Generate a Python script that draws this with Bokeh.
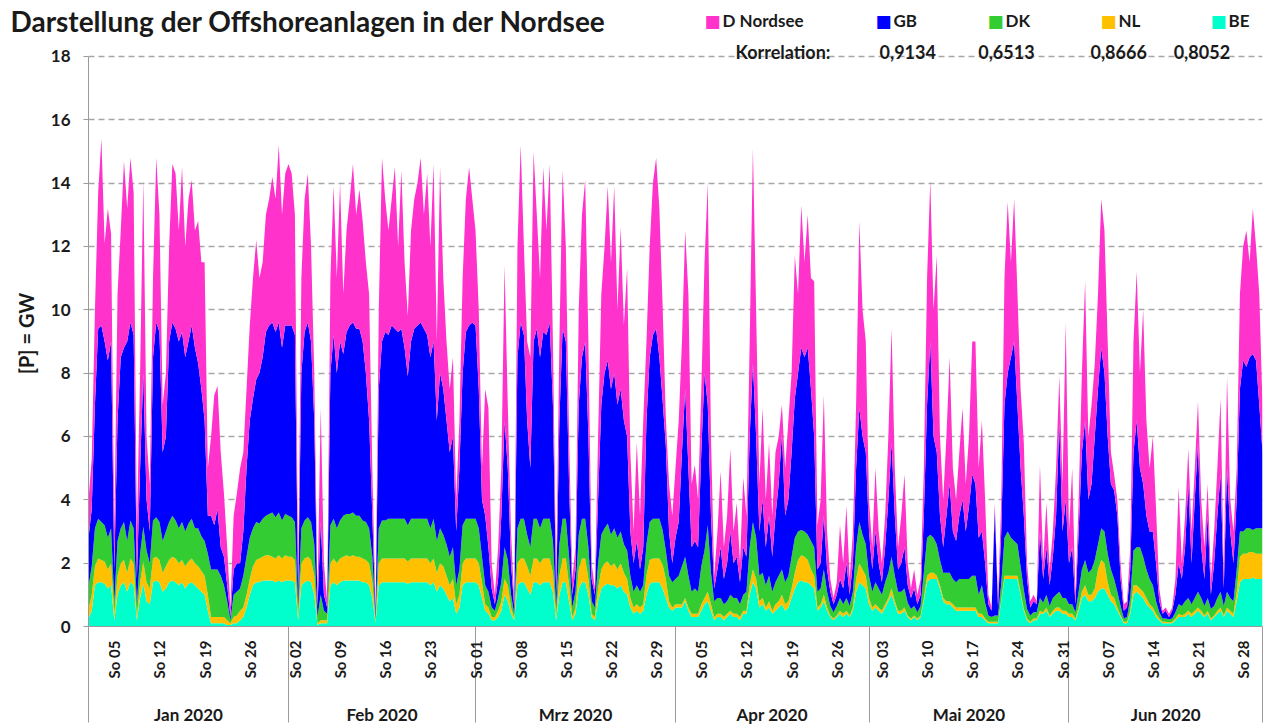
import math
from bokeh.plotting import figure
from bokeh.layouts import column
from bokeh.models import ColumnDataSource, Range1d, LinearAxis, FixedTicker, Label
from bokeh.embed import file_html
from bokeh.resources import INLINE

# ---------------- data (GW, 12-hour steps from 1 Jan 2020 00:00) ----------------
be = [
 .25,.5,1.3,1.4,1.4,1.35,1.2,1.3,.2,1.0,
 1.3,1.4,1.1,1.4,1.3,.2,.9,1.35,.8,.7,
 1.4,1.45,1.4,1.1,1.2,1.4,1.45,1.4,1.3,1.4,
 1.2,1.35,1.4,1.3,1.2,1.1,1.0,.5,.1,.1,
 .1,.1,.1,.05,.05,.1,.1,.2,.3,.6,
 1.0,1.3,1.4,1.4,1.45,1.45,1.45,1.45,1.4,1.45,
 1.4,1.45,1.45,1.45,1.4,.2,1.3,1.4,1.45,1.4,
 1.0,.05,.1,.1,.1,1.3,1.4,1.3,1.4,1.45,
 1.45,1.45,1.45,1.45,1.45,1.4,1.4,1.3,.9,.1,
 1.3,1.4,1.4,1.4,1.4,1.4,1.4,1.4,1.4,1.35,
 1.4,1.4,1.4,1.4,1.4,1.4,1.3,1.4,1.1,1.3,
 1.2,1.0,.8,.9,.4,.6,1.3,1.4,1.4,1.4,
 1.4,1.3,.9,.5,.4,.2,.2,.3,.5,1.0,
 .8,.4,.2,1.3,1.4,1.4,1.2,1.0,1.4,1.4,
 1.3,1.4,1.4,1.4,1.1,.2,1.0,1.4,1.4,.8,
 .2,.4,1.2,1.4,1.4,1.0,.3,.2,.8,1.2,
 1.3,1.35,1.3,1.3,1.2,1.3,1.1,1.0,.6,.4,
 .5,.4,.5,1.0,1.35,1.4,1.4,1.4,1.2,.9,
 .6,.5,.6,.6,.6,.8,.5,.3,.3,.3,
 .5,.7,.8,.5,.2,.3,.3,.2,.3,.4,
 .3,.3,.2,.4,.4,1.0,1.4,1.2,.6,.7,
 .5,.6,.4,.5,.6,.7,.5,.6,.9,1.2,
 1.4,1.45,1.4,1.4,1.3,1.2,.5,.6,.8,.5,
 .3,.2,.3,.4,.3,.4,.3,.5,1.1,1.4,
 1.3,1.2,.7,.5,.6,.5,.4,.6,.8,1.0,
 .7,.4,.4,.5,.3,.2,.3,.2,.3,.8,
 1.4,1.5,1.5,1.5,1.2,.8,.7,.7,.6,.5,
 .5,.5,.5,.5,.5,.5,.3,.3,.2,.1,
 .1,.1,.1,.8,1.5,1.5,1.5,1.5,1.5,1.0,
 .5,.2,.1,.2,.2,.4,.4,.5,.3,.4,
 .5,.5,.4,.4,.3,.3,.2,.5,.9,1.0,
 .8,.8,.9,1.1,1.2,1.2,1.0,.8,.7,.5,
 .3,.1,.1,.4,1.0,1.1,1.0,.9,.7,.6,
 .5,.3,.2,.1,.1,.1,.1,.2,.3,.3,
 .3,.4,.3,.4,.5,.4,.3,.4,.2,.3,
 .4,.5,.3,.5,.4,.3,.8,1.4,1.5,1.5,
 1.5,1.55,1.5,1.5,1.5]

nl = [
 .3,.5,.6,.75,.7,.7,.6,.7,.2,.6,
 .7,.7,.6,.75,.7,.1,.5,.7,.6,.5,
 .75,.75,.7,.6,.7,.7,.75,.75,.7,.7,
 .7,.7,.75,.7,.7,.65,.6,.5,.2,.2,
 .2,.2,.2,.15,.05,.2,.25,.3,.3,.4,
 .5,.6,.7,.75,.75,.8,.8,.75,.75,.8,
 .75,.8,.75,.75,.7,.1,.7,.75,.75,.7,
 .6,.05,.1,.1,.1,.7,.75,.7,.75,.75,
 .8,.75,.8,.75,.75,.75,.7,.7,.5,.05,
 .7,.75,.75,.75,.75,.75,.75,.75,.75,.7,
 .75,.75,.75,.75,.75,.75,.7,.75,.6,.7,
 .7,.6,.5,.6,.3,.4,.7,.75,.75,.75,
 .75,.7,.5,.2,.2,.1,.1,.2,.3,.5,
 .5,.2,.05,.7,.75,.75,.7,.6,.75,.75,
 .7,.75,.75,.75,.6,.1,.6,.75,.75,.5,
 .1,.2,.6,.75,.75,.5,.1,.1,.4,.6,
 .7,.7,.6,.7,.6,.7,.6,.5,.3,.2,
 .2,.2,.2,.6,.75,.75,.75,.75,.75,.6,
 .2,.1,.1,.1,.1,.1,.1,.1,.1,.1,
 .2,.2,.3,.2,.1,.1,.1,.1,.1,.1,
 .1,.1,.1,.1,.1,.3,.4,.3,.2,.2,
 .1,.2,.1,.2,.2,.3,.2,.2,.3,.5,
 .7,.8,.8,.7,.5,.4,.1,.1,.2,.1,
 .05,.05,.05,.1,.1,.1,.05,.1,.4,.6,
 .5,.4,.2,.1,.1,.1,.1,.1,.1,.2,
 .1,.1,.1,.1,.05,.05,.05,.05,.05,.1,
 .2,.2,.2,.1,.1,.1,.1,.1,.1,.1,
 .1,.1,.1,.1,.1,.1,.1,.1,.05,.05,
 .05,.05,.05,.05,.1,.1,.1,.1,.1,.1,
 .05,.05,.05,.05,.05,.1,.05,.1,.05,.1,
 .1,.1,.1,.1,.1,.1,.05,.1,.2,.3,
 .2,.2,.3,.7,.9,.8,.4,.2,.2,.1,
 .05,.05,.05,.1,.3,.2,.2,.2,.2,.1,
 .1,.1,.05,.05,.05,.03,.05,.05,.1,.05,
 .1,.1,.1,.1,.1,.1,.05,.1,.05,.05,
 .1,.1,.05,.1,.1,.1,.3,.8,.8,.8,
 .85,.8,.8,.8,.8]

dk = [
 .7,.9,1.2,1.25,1.2,1.15,1.0,1.1,.4,1.1,
 1.1,1.2,1.0,1.2,1.1,.4,.9,1.1,1.0,.8,
 1.2,1.25,1.2,1.0,1.1,1.2,1.3,1.2,1.1,1.2,
 1.1,1.2,1.25,1.1,1.2,1.1,1.1,1.3,1.5,1.5,
 1.5,1.3,1.0,.6,.1,.7,.75,.7,1.0,1.2,
 1.3,1.2,1.2,1.1,1.2,1.25,1.3,1.4,1.3,1.35,
 1.2,1.3,1.3,1.25,1.2,.3,1.1,1.2,1.25,1.2,
 1.0,.2,.8,.3,.2,1.2,1.25,1.1,1.2,1.3,
 1.3,1.35,1.35,1.3,1.3,1.2,1.2,1.1,.8,.1,
 1.1,1.2,1.2,1.25,1.25,1.25,1.25,1.25,1.25,1.15,
 1.25,1.25,1.25,1.25,1.25,1.25,1.1,1.25,1.0,1.1,
 1.0,1.0,.9,1.0,.6,.8,1.2,1.25,1.25,1.25,
 1.25,1.1,.8,.6,.5,.3,.2,.4,.6,1.0,
 .8,.4,.15,1.1,1.25,1.25,1.0,.9,1.25,1.25,
 1.1,1.25,1.25,1.25,1.0,.3,1.0,1.25,1.25,.9,
 .3,.5,1.1,1.25,1.25,1.0,.4,.3,.8,1.1,
 1.1,1.2,1.0,1.1,1.0,1.0,.9,.9,.7,.5,
 .6,.5,.6,1.0,1.2,1.25,1.25,1.25,1.1,.9,
 .8,.8,.8,.9,1.2,1.3,1.0,.7,.8,.7,
 1.2,1.5,2.1,1.0,.5,.5,.5,.4,.4,.5,
 .5,.5,.4,.5,.6,1.2,1.5,1.3,.8,.8,
 .7,.8,.6,.7,.8,.8,.7,.8,1.0,1.1,
 .9,.8,.8,.8,.9,.9,.5,.5,.8,.5,
 .3,.2,.3,.4,.3,.4,.3,.5,1.0,1.3,
 1.1,1.0,.7,.5,.7,.6,.5,.7,.8,1.0,
 .8,.6,.6,.6,.4,.3,.3,.2,.3,.8,
 1.2,1.2,1.1,1.0,.8,.8,.9,.9,.8,.8,
 .9,.9,.9,.9,1.0,1.0,.6,.9,.5,.2,
 .15,.2,.2,.5,1.2,1.4,1.2,1.1,1.0,.8,
 .6,.3,.2,.2,.2,.4,.3,.4,.3,.4,
 .4,.5,.4,.4,.3,.3,.2,.5,.7,.8,
 .7,.8,.9,.8,1.0,1.0,.9,.8,.6,.5,
 .3,.1,.15,.4,1.1,1.2,1.3,1.1,.9,.8,
 .7,.4,.2,.1,.1,.1,.1,.2,.3,.3,
 .4,.4,.3,.4,.5,.4,.3,.4,.3,.3,
 .4,.5,.3,.5,.4,.4,.7,.8,.7,.8,
 .75,.7,.8,.8,.8]

gb = [
 1.55,1.8,3.9,6.0,6.2,5.8,5.6,5.9,1.0,3.8,
 5.4,5.5,6.3,6.25,6.1,.8,2.7,4.85,1.6,1.0,
 5.15,6.15,6.0,2.8,3.0,5.7,6.1,6.05,5.9,6.0,
 5.5,5.75,6.1,5.7,5.2,4.65,3.8,1.2,1.7,1.4,
 1.9,.9,.9,.5,.1,.8,.9,.8,1.4,2.8,
 3.7,4.1,4.5,4.75,5.1,5.8,5.95,6.0,5.85,6.0,
 5.45,5.95,6.0,6.05,5.9,.4,4.9,5.95,6.15,5.7,
 3.9,.3,2.3,.5,.2,4.8,5.8,4.9,5.65,5.1,
 5.75,5.95,6.0,5.9,5.9,5.65,4.7,3.4,1.3,.15,
 4.4,5.65,5.95,5.8,6.1,6.0,5.9,6.0,5.4,4.7,
 5.6,6.0,6.1,6.2,6.0,5.8,5.4,5.6,3.8,4.9,
 4.6,3.9,3.3,3.5,1.7,3.2,4.8,5.9,6.1,6.2,
 6.1,4.4,1.8,2.2,1.4,.6,.2,.6,2.1,4.0,
 2.9,1.0,.2,5.4,6.2,5.8,3.6,2.5,5.6,6.0,
 5.4,5.9,5.8,6.2,4.3,.4,3.9,6.0,5.6,2.3,
 .4,.7,4.1,5.1,5.6,3.5,.7,.4,2.0,4.1,
 4.9,5.15,4.6,4.9,4.2,4.5,3.9,3.6,1.4,.9,
 1.4,.7,1.2,3.9,5.2,5.8,6.0,5.1,4.1,3.3,
 1.4,.6,1.3,1.7,3.6,5.3,3.4,1.4,1.5,1.4,
 3.6,5.6,3.8,1.8,.4,.9,1.6,.8,1.2,2.0,
 1.1,1.3,.7,1.5,1.1,3.5,5.0,3.2,1.4,2.3,
 1.2,1.9,1.1,2.1,2.9,4.3,2.1,2.4,3.3,4.4,
 5.0,5.75,5.5,5.9,4.8,3.5,.7,.8,1.7,.7,
 .45,.25,.35,.6,.5,1.1,.35,.9,2.5,3.6,
 3.1,2.9,1.4,.7,1.6,.8,.4,1.1,2.3,3.6,
 1.9,.7,.9,1.3,.55,.35,.55,.25,.35,1.8,
 4.2,6.1,3.2,2.9,1.4,.8,1.8,2.8,1.5,1.3,
 2.0,2.5,1.5,2.3,3.2,2.9,1.8,1.7,1.25,.35,
 .2,3.35,.25,1.65,4.2,5.0,5.7,6.3,4.4,3.1,
 2.35,.95,.25,.35,.25,2.1,.75,1.5,.65,1.3,
 2.5,5.3,2.1,3.1,1.3,1.8,.25,1.9,3.7,4.4,
 2.3,2.7,3.9,4.9,5.7,5.0,3.7,2.7,2.8,2.4,
 .85,.25,.3,.9,3.1,4.0,2.5,2.3,1.7,1.5,
 1.7,1.2,.35,.15,.25,.07,.25,.55,1.3,.85,
 1.7,3.6,1.3,3.1,4.7,1.6,.85,2.6,.45,1.35,
 2.6,3.7,.55,3.9,2.1,1.2,2.2,4.5,5.4,5.1,
 5.4,5.55,5.3,3.9,2.4]

de = [
 1.2,1.6,3.0,4.3,5.9,3.1,4.8,3.4,1.2,4.0,
 4.0,5.9,4.2,5.2,4.5,1.5,3.0,6.1,2.0,1.5,
 2.5,5.2,3.7,1.5,2.0,3.0,5.0,4.9,3.5,5.2,
 3.5,4.5,4.6,3.7,4.5,4.0,5.0,1.5,2.5,4.1,
 3.9,3.0,2.0,1.2,.3,1.7,2.2,3.0,2.5,2.5,
 3.0,3.8,4.4,3.0,3.0,3.7,4.0,4.6,4.2,5.6,
 4.2,4.8,5.1,4.8,3.8,.5,3.0,4.2,4.7,3.0,
 1.5,.4,3.6,1.0,.2,3.0,4.7,3.0,5.0,1.9,
 3.2,4.0,5.0,3.6,4.4,3.8,3.5,4.0,1.5,.1,
 2.5,5.8,4.2,3.3,4.0,5.1,2.7,5.0,2.7,1.9,
 3.5,4.1,4.5,5.2,3.6,5.1,3.5,5.6,2.5,6.5,
 3.5,2.5,2.0,2.5,1.0,1.5,3.0,4.2,5.0,3.9,
 3.0,2.5,1.0,4.0,4.4,.8,.3,1.0,1.5,4.9,
 2.0,1.0,.2,3.5,5.6,2.8,2.5,3.5,6.0,3.6,
 2.5,5.2,3.3,5.0,2.0,.5,2.5,5.0,3.0,1.5,
 .5,.7,3.0,4.5,5.1,3.0,.5,.2,2.0,3.5,
 4.0,5.5,4.0,5.9,3.0,5.1,3.0,5.3,2.5,1.0,
 3.1,1.7,4.0,2.5,3.5,4.8,5.4,4.7,3.0,.9,
 1.5,1.5,2.2,3.2,3.5,5.0,5.5,2.0,2.4,1.5,
 2.0,3.5,7.0,2.5,.4,1.2,2.4,1.0,1.5,2.6,
 1.0,1.7,.6,2.2,1.3,3.0,6.8,4.0,1.5,2.9,
 1.5,2.3,1.3,2.0,1.5,.9,1.5,2.5,2.5,4.5,
 2.5,4.5,3.0,4.2,3.5,4.9,1.4,2.0,3.8,1.2,
 .4,.2,.4,1.7,.8,1.8,.5,1.0,2.0,5.9,
 4.0,3.5,1.0,.7,2.0,1.0,.6,1.0,2.0,3.6,
 1.5,.7,1.5,2.3,.7,.3,.6,.3,.5,1.5,
 4.0,5.1,4.0,6.2,2.5,1.5,2.5,4.0,2.0,1.3,
 2.0,2.9,1.5,2.2,4.2,4.5,2.2,3.5,2.0,.3,
 .1,.2,.2,1.0,4.0,5.4,3.0,4.5,3.6,2.5,
 2.3,.5,.2,.2,.1,2.1,.5,1.4,.5,.8,
 1.5,1.5,1.5,5.6,1.0,2.5,.3,1.0,2.5,4.4,
 2.0,2.5,2.3,3.0,4.7,4.5,3.0,1.0,.5,.5,
 .5,.2,.2,.7,3.5,4.7,3.0,5.5,3.0,2.0,
 3.0,1.7,.4,.1,.1,.1,.1,.5,2.4,.5,
 1.0,1.1,1.0,1.0,1.3,1.5,1.0,1.0,.5,1.0,
 1.5,2.4,.4,2.9,1.0,1.0,1.0,3.0,3.6,4.3,
 3.0,4.6,3.6,3.5,1.5]

series_keys = ["be", "nl", "dk", "gb", "de"]
series_names = ["BE", "NL", "DK", "GB", "D Nordsee"]
series_colors = ["#00FFCC", "#FFC000", "#33CC33", "#0000FF", "#FF33CC"]
correlations = {"GB": "0,9134", "DK": "0,6513", "NL": "0,8666", "BE": "0,8052"}

month_starts = [0, 31, 60, 91, 121, 152, 182]
month_labels = ["Jan 2020", "Feb 2020", "Mrz 2020", "Apr 2020", "Mai 2020", "Jun 2020"]
sunday_days = [4, 11, 18, 25, 32, 39, 46, 53, 60, 67, 74, 81, 88, 95, 102, 109, 116,
               123, 130, 137, 144, 151, 158, 165, 172, 179]
sunday_labels = ["So 05", "So 12", "So 19", "So 26", "So 02", "So 09", "So 16", "So 23",
                 "So 01", "So 08", "So 15", "So 22", "So 29", "So 05", "So 12", "So 19",
                 "So 26", "So 03", "So 10", "So 17", "So 24", "So 31", "So 07", "So 14",
                 "So 21", "So 28"]
y_ticks = [0, 2, 4, 6, 8, 10, 12, 14, 16, 18]

FONT = "Lato"
GREY = "#9b9b9b"
TXT = "#1a1a1a"

# ---------------- header (title + legend) ----------------
HEAD_H = 40
head = figure(width=1263, height=HEAD_H, x_range=Range1d(0, 1263), y_range=Range1d(0, HEAD_H),
              x_axis_type=None, y_axis_type=None, output_backend="svg", toolbar_location=None,
              min_border=0, min_border_left=0, min_border_right=0, min_border_top=0,
              min_border_bottom=0)
head.outline_line_color = None

def hlab(x, y, text, size, color=TXT, align="left", font=FONT, style="bold"):
    head.add_layout(Label(x=x, y=y, text=text, text_font=font, text_font_size=size,
                          text_font_style=style, text_color=color, text_align=align,
                          text_baseline="middle"))

hlab(10, 20, "Darstellung der Offshoreanlagen in der Nordsee", "28px")
legend_x = {"D Nordsee": 712, "GB": 883, "DK": 995, "NL": 1108, "BE": 1218}
for name, col in zip(series_names[::-1], series_colors[::-1]):
    hlab(legend_x[name], 20, "\u25A0", "17px", color=col, align="center",
         font="DejaVu Sans", style="normal")
    hlab(legend_x[name] + 10, 20, name, "17px")

# ---------------- main chart ----------------
n = min(len(be), len(nl), len(dk), len(gb), len(de))
source = ColumnDataSource(dict(
    x=[i * 0.5 for i in range(n)],
    be=be[:n], nl=nl[:n], dk=dk[:n], gb=gb[:n], de=de[:n]))

MAIN_H = 727 - HEAD_H
PX_PER_GW = 575 / 18.0
y_top = 18 + (56 - HEAD_H) / PX_PER_GW
p = figure(width=1263, height=MAIN_H, x_range=Range1d(0, 182), y_range=Range1d(0, y_top),
           x_axis_type=None, output_backend="svg", toolbar_location=None,
           min_border_left=88, min_border_right=1, min_border_top=0, min_border_bottom=96)
p.outline_line_color = None
p.background_fill_color = "white"
p.border_fill_color = "white"

p.varea_stack(stackers=series_keys, x="x", color=series_colors, source=source)

yax = p.yaxis[0]
yax.ticker = FixedTicker(ticks=y_ticks)
yax.bounds = (0, 18)
yax.axis_line_color = GREY
yax.major_tick_line_color = GREY
yax.major_tick_out = 5
yax.major_tick_in = 0
yax.minor_tick_line_color = None
yax.major_label_standoff = 13
yax.major_label_text_font = FONT
yax.major_label_text_font_style = "bold"
yax.major_label_text_font_size = "17px"
yax.major_label_text_color = TXT
yax.axis_label = "[P] = GW"
yax.axis_label_text_font = FONT
yax.axis_label_text_font_style = "bold"
yax.axis_label_text_font_size = "20px"
yax.axis_label_text_color = TXT
yax.axis_label_standoff = 10

p.ygrid.ticker = FixedTicker(ticks=y_ticks)
p.ygrid.grid_line_color = "#a6a6a6"
p.ygrid.grid_line_dash = "6 4"
p.ygrid.grid_line_width = 1.5

# Sunday labels; month separators drawn as long minor ticks
SEP_LEN = 96
ax1 = LinearAxis(ticker=FixedTicker(ticks=sunday_days, minor_ticks=month_starts))
ax1.major_label_overrides = {d: s for d, s in zip(sunday_days, sunday_labels)}
ax1.major_label_orientation = math.pi / 2
ax1.major_tick_out = 0
ax1.major_tick_in = 0
ax1.major_tick_line_color = None
ax1.minor_tick_out = SEP_LEN
ax1.minor_tick_in = 0
ax1.minor_tick_line_color = GREY
ax1.minor_tick_line_width = 1
ax1.axis_line_color = GREY
ax1.axis_line_width = 1
ax1.major_label_standoff = 14 - SEP_LEN
ax1.major_label_text_font = FONT
ax1.major_label_text_font_style = "bold"
ax1.major_label_text_font_size = "15px"
ax1.major_label_text_color = TXT
p.add_layout(ax1, "below")

month_centers = [(month_starts[i] + month_starts[i + 1]) / 2 for i in range(6)]
ax2 = LinearAxis(ticker=FixedTicker(ticks=month_centers))
ax2.major_label_overrides = {c: s for c, s in zip(month_centers, month_labels)}
ax2.major_tick_line_color = None
ax2.minor_tick_line_color = None
ax2.axis_line_color = None
ax2.major_label_standoff = 16
ax2.major_label_text_font = FONT
ax2.major_label_text_font_style = "bold"
ax2.major_label_text_font_size = "17px"
ax2.major_label_text_color = TXT
p.add_layout(ax2, "below")

# correlation row (sits just above the 18 GW grid line)
def plab(x, y, text, size, align="left"):
    p.add_layout(Label(x=x, y=y, text=text, text_font=FONT, text_font_size=size,
                       text_font_style="bold", text_color=TXT, text_align=align,
                       text_baseline="middle"))

plab(100.3, 18.13, "Korrelation:", "18px")
corr_x = {"GB": 127.0, "DK": 142.3, "NL": 159.7, "BE": 172.6}
for name in ["GB", "DK", "NL", "BE"]:
    plab(corr_x[name], 18.13, correlations[name], "18px", align="center")

# keep the header's frame independent of the chart's frame
for f in (head, p):
    if "frame_align" in f.properties():
        f.frame_align = False

layout = column(head, p, spacing=0)
open("out.html", "w").write(file_html(layout, INLINE))
